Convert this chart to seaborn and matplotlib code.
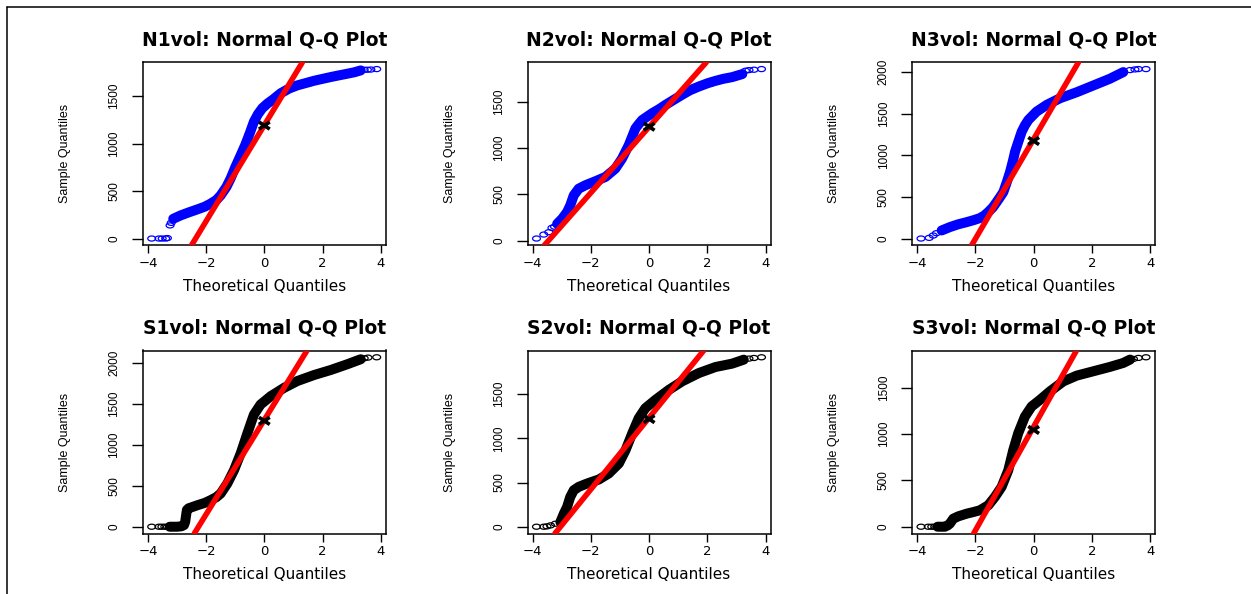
import numpy as np
import matplotlib
matplotlib.use("Agg")
import matplotlib.pyplot as plt
from matplotlib.path import Path
from matplotlib.lines import Line2D
from matplotlib.ticker import MultipleLocator
import seaborn as sns

# ---------------- data ----------------
panel_names = ["N1vol", "N2vol", "N3vol", "S1vol", "S2vol", "S3vol"]

# N1vol
N1_lo_x = [-3.87, -3.62, -3.51, -3.39, -3.33, -3.24, -3.20]
N1_lo_y = [0, 0, 0, 0, 5, 138, 165]
N1_body_x = [-3.13, -2.88, -2.60, -2.30, -2.05, -1.85, -1.65, -1.50, -1.30, -1.16, -1.00, -0.81, -0.65,
             -0.50, -0.36, -0.22, -0.07, 0.10, 0.30, 0.56, 0.85, 1.13, 1.45, 1.71, 2.00, 2.28, 2.55,
             2.85, 3.10, 3.31]
N1_body_y = [208, 243, 275, 307, 335, 367, 405, 455, 545, 632, 750, 879, 990, 1110, 1230, 1310, 1373,
             1420, 1465, 1530, 1580, 1613, 1640, 1662, 1682, 1701, 1718, 1736, 1752, 1771]
N1_hi_x = [3.43, 3.54, 3.66, 3.86]
N1_hi_y = [1778, 1778, 1780, 1785]

# N2vol
N2_lo_x = [-3.87, -3.62, -3.45, -3.34, -3.25]
N2_lo_y = [22, 65, 90, 137, 150]
N2_body_x = [-3.16, -2.99, -2.82, -2.71, -2.59, -2.42, -2.19, -1.85, -1.50, -1.16, -0.93, -0.70, -0.47,
             -0.35, -0.24, 0.10, 0.35, 0.56, 0.85, 1.13, 1.40, 1.71, 2.00, 2.28, 2.55, 2.85, 3.20]
N2_body_y = [181, 235, 307, 380, 488, 560, 597, 640, 687, 777, 886, 1030, 1211, 1260, 1301, 1374, 1420,
             1464, 1520, 1573, 1622, 1663, 1697, 1724, 1746, 1764, 1797]
N2_hi_x = [3.31, 3.43, 3.60, 3.86]
N2_hi_y = [1833, 1840, 1844, 1851]

# N3vol
N3_lo_x = [-3.87, -3.59, -3.45, -3.34]
N3_lo_y = [0, 8, 36, 64]
N3_body_x = [-3.16, -2.88, -2.60, -2.30, -2.05, -1.85, -1.70, -1.56, -1.40, -1.27, -1.15, -1.04, -0.92,
             -0.81, -0.70, -0.64, -0.52, -0.41, -0.30, -0.18, 0.10, 0.45, 0.91, 1.48, 2.05, 2.62, 3.08]
N3_body_y = [97, 137, 170, 197, 222, 245, 275, 318, 375, 439, 500, 559, 680, 801, 950, 1042, 1170, 1284,
             1360, 1425, 1525, 1606, 1686, 1758, 1839, 1920, 2000]
N3_hi_x = [3.31, 3.48, 3.60, 3.86]
N3_hi_y = [2024, 2032, 2036, 2036]

# S1vol
S1_lo_x = [-3.87, -3.62, -3.52, -3.42, -3.33]
S1_lo_y = [0, 0, 0, 0, 0]
S1_body_x = [-3.25, -3.00, -2.85, -2.76, -2.72, -2.70, -2.68, -2.66, -2.60, -2.53, -2.30, -2.05, -1.85,
             -1.65, -1.50, -1.27, -1.04, -0.81, -0.58, -0.36, -0.13, 0.22, 0.68, 1.13, 1.71, 2.28, 2.85,
             3.31]
S1_body_y = [0, 0, 5, 20, 60, 110, 160, 205, 225, 233, 262, 290, 323, 360, 405, 528, 691, 896, 1141,
             1366, 1489, 1591, 1693, 1775, 1849, 1910, 1980, 2041]
S1_hi_x = [3.43, 3.56, 3.86]
S1_hi_y = [2053, 2061, 2065]

# S2vol
S2_lo_x = [-3.87, -3.62, -3.51, -3.39, -3.22]
S2_lo_y = [0, 0, 4, 15, 34]
S2_body_x = [-3.05, -2.93, -2.82, -2.71, -2.59, -2.42, -2.20, -2.07, -1.73, -1.39, -1.04, -0.81, -0.58,
             -0.36, -0.13, 0.22, 0.68, 1.13, 1.71, 2.28, 2.85, 3.25]
S2_body_y = [53, 148, 223, 337, 413, 451, 480, 496, 534, 602, 716, 867, 1057, 1227, 1341, 1436, 1549,
             1644, 1739, 1807, 1845, 1890]
S2_hi_x = [3.43, 3.60, 3.86]
S2_hi_y = [1902, 1909, 1917]

# S3vol
S3_lo_x = [-3.87, -3.62, -3.50, -3.40]
S3_lo_y = [0, 0, 0, 0]
S3_body_x = [-3.30, -3.05, -2.95, -2.88, -2.76, -2.59, -2.30, -2.05, -1.85, -1.56, -1.33, -1.10, -0.87,
             -0.70, -0.53, -0.30, -0.07, 0.22, 0.56, 1.02, 1.48, 2.05, 2.62, 3.08, 3.31]
S3_body_y = [0, 0, 15, 33, 87, 112, 141, 160, 177, 231, 322, 430, 611, 828, 1009, 1189, 1298, 1370,
             1461, 1569, 1631, 1678, 1725, 1768, 1804]
S3_hi_x = [3.43, 3.60, 3.86]
S3_hi_y = [1811, 1822, 1829]

# reference (qqline) intercept / slope and the marked centre value
line_intercepts = [1195, 1227, 1195, 1303, 1234, 1079]
line_slopes = [506, 355, 599, 576, 405, 559]
center_values = [1190, 1229, 1172, 1290, 1218, 1045]

point_colors = ["#0000FF", "#0000FF", "#0000FF", "#000000", "#000000", "#000000"]

panels = [
    (N1_lo_x, N1_lo_y, N1_body_x, N1_body_y, N1_hi_x, N1_hi_y),
    (N2_lo_x, N2_lo_y, N2_body_x, N2_body_y, N2_hi_x, N2_hi_y),
    (N3_lo_x, N3_lo_y, N3_body_x, N3_body_y, N3_hi_x, N3_hi_y),
    (S1_lo_x, S1_lo_y, S1_body_x, S1_body_y, S1_hi_x, S1_hi_y),
    (S2_lo_x, S2_lo_y, S2_body_x, S2_body_y, S2_hi_x, S2_hi_y),
    (S3_lo_x, S3_lo_y, S3_body_x, S3_body_y, S3_hi_x, S3_hi_y),
]

# ---------------- style ----------------
sns.set_theme(style="ticks")
plt.rcParams["font.family"] = ["DejaVu Sans"]
plt.rcParams["axes.edgecolor"] = "black"
plt.rcParams["axes.linewidth"] = 1.1

W, H = 1251, 594
fig = plt.figure(figsize=(W / 100, H / 100), dpi=100)
fig.patch.set_facecolor("white")

col_left = [142.7, 527.5, 912.0]
row_top = [62.3, 350.5]
box_w, box_h = 243.0, 183.0

# squashed circle marker (the reference is horizontally stretched)
t = np.linspace(0, 2 * np.pi, 61)
ell = Path(np.column_stack([1.55 * np.cos(t), np.sin(t)]), closed=True)
xmark = Path([(-1.5, -1), (1.5, 1), (-1.5, 1), (1.5, -1)],
             [Path.MOVETO, Path.LINETO, Path.MOVETO, Path.LINETO])

for i, (name, pdata) in enumerate(zip(panel_names, panels)):
    r, c = divmod(i, 3)
    left = col_left[c] / W
    bottom = 1 - (row_top[r] + box_h) / H
    ax = fig.add_axes([left, bottom, box_w / W, box_h / H])
    ax.set_facecolor("white")
    lo_x, lo_y, b_x, b_y, hi_x, hi_y = pdata
    col = point_colors[i]

    sns.lineplot(x=b_x, y=b_y, ax=ax, color=col, lw=7.2, sort=False, estimator=None,
                 solid_capstyle="round", solid_joinstyle="round", legend=False, zorder=2)
    tx = list(lo_x) + list(hi_x)
    ty = list(lo_y) + list(hi_y)
    sns.scatterplot(x=tx, y=ty, ax=ax, marker=ell, s=32, color=col, facecolor="none",
                    edgecolor=col, linewidth=0.9, legend=False, zorder=3)

    ax.axline((0, line_intercepts[i]), slope=line_slopes[i], color="#FF0000", lw=4.0, zorder=4)

    sns.scatterplot(x=[0.0], y=[center_values[i]], ax=ax, marker=xmark, s=60, color="black",
                    facecolor="none", edgecolor="black", linewidth=2.6, legend=False, zorder=5)

    allx = list(lo_x) + list(b_x) + list(hi_x)
    ally = list(lo_y) + list(b_y) + list(hi_y)
    xr = max(allx) - min(allx)
    yr = max(ally) - min(ally)
    ax.set_xlim(min(allx) - 0.04 * xr, max(allx) + 0.04 * xr)
    ax.set_ylim(min(ally) - 0.04 * yr, max(ally) + 0.04 * yr)
    ax.set_xticks([-4, -2, 0, 2, 4])
    ax.yaxis.set_major_locator(MultipleLocator(500))

    for s in ax.spines.values():
        s.set_visible(True)
        s.set_color("black")
        s.set_linewidth(1.1)
    ax.tick_params(axis="x", direction="out", length=5.4, width=1.0, pad=3.0,
                   labelsize=9.5, colors="black")
    ax.tick_params(axis="y", direction="out", length=8.0, width=1.0, pad=8,
                   labelsize=8.5, colors="black")
    for lab in ax.get_yticklabels():
        lab.set_rotation(90)
        lab.set_va("center")
        lab.set_family(["Liberation Sans", "DejaVu Sans"])

    ax.set_title(f"{name}: Normal Q-Q Plot", fontsize=13.5, fontweight="bold", pad=12,
                 color="black")
    ax.set_xlabel("Theoretical Quantiles", fontsize=11, color="black")
    ax.xaxis.set_label_coords(0.5, -0.185)
    ax.set_ylabel("Sample Quantiles", fontsize=9, color="black",
                  family=["Liberation Sans", "DejaVu Sans"])
    ax.yaxis.set_label_coords(-0.295, 0.5)

# frame lines of the original screenshot
fig.add_artist(Line2D([6.7 / W, 6.7 / W], [0, 1 - 6.7 / H], transform=fig.transFigure,
                      color="black", lw=1.1))
fig.add_artist(Line2D([6.7 / W, 1], [1 - 6.7 / H, 1 - 6.7 / H], transform=fig.transFigure,
                      color="black", lw=1.1))

fig.savefig("out.png", dpi=100, facecolor="white")
